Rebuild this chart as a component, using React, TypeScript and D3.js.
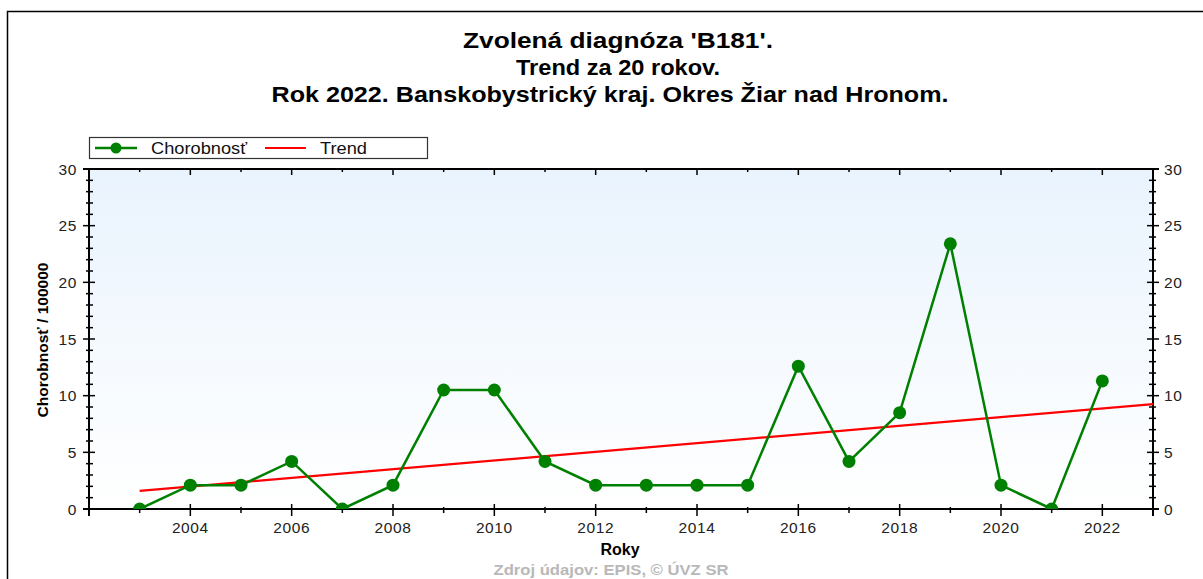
import React from "react";
import * as d3 from "d3";

const years = [2003, 2004, 2005, 2006, 2007, 2008, 2009, 2010, 2011, 2012, 2013, 2014, 2015, 2016, 2017, 2018, 2019, 2020, 2021, 2022];
const chorobnost = [0, 2.1, 2.1, 4.2, 0, 2.1, 10.5, 10.5, 4.2, 2.1, 2.1, 2.1, 2.1, 12.6, 4.2, 8.5, 23.4, 2.1, 0, 11.3];
const trendYears = [2003, 2023];
const trendValues = [1.6, 9.25];
const xTickLabels = [2004, 2006, 2008, 2010, 2012, 2014, 2016, 2018, 2020, 2022];
const yTickLabels = [0, 5, 10, 15, 20, 25, 30];
const titleLines = ["Zvolená diagnóza 'B181'.", "Trend za 20 rokov.", "Rok 2022. Banskobystrický kraj. Okres Žiar nad Hronom."];
const titleWidths = [310, 204, 677];

export default function App() {
  const W = 1203, H = 579;
  const L = 89, R = 1153, T = 169, B = 509;
  const x = d3.scaleLinear().domain([2002, 2023]).range([L, R]);
  const y = d3.scaleLinear().domain([0, 30]).range([B, T]);
  const line = d3.line<number>().x((d, i) => x(years[i])).y((d) => y(d));
  const tline = d3.line<number>().x((d, i) => x(trendYears[i])).y((d) => y(d));
  const xMinor = d3.range(2003, 2023);
  const yMinor = d3.range(0, 31);
  const font = "Arial, 'Liberation Sans', sans-serif";
  const titleX = [618, 618, 610];
  return (
    <svg width={W} height={H} style={{ position: "absolute", left: 0, top: 0 }} fontFamily={font}>
      <defs>
        <linearGradient id="bg" x1="0" y1="0" x2="0" y2="1">
          <stop offset="0" stopColor="#e9f3fd" />
          <stop offset="1" stopColor="#ffffff" />
        </linearGradient>
        <clipPath id="clip">
          <rect x={L} y={T} width={R - L} height={B - T} />
        </clipPath>
      </defs>
      <rect x={0} y={0} width={W} height={H} fill="#fff" />
      <rect x={7.5} y={11.5} width={1205} height={600} fill="none" stroke="#000" strokeWidth={1.5} />
      {titleLines.map((t, i) => (
        <text key={i} x={titleX[i]} y={48 + i * 27} textAnchor="middle" fontSize={22} fontWeight="bold" fill="#000"
          textLength={titleWidths[i]} lengthAdjust="spacingAndGlyphs">{t}</text>
      ))}
      <rect x={L} y={T} width={R - L} height={B - T} fill="url(#bg)" />
      {yMinor.map((v) => {
        const major = v % 5 === 0;
        return (
          <g key={"y" + v}>
            <line x1={major ? L - 6 : L - 3} x2={major ? L + 6 : L + 4} y1={y(v)} y2={y(v)} stroke="#000" strokeWidth={1.5} />
            <line x1={major ? R - 6 : R - 4} x2={major ? R + 6 : R + 3} y1={y(v)} y2={y(v)} stroke="#000" strokeWidth={1.5} />
          </g>
        );
      })}
      {xMinor.map((v) => {
        const major = v % 2 === 0;
        return (
          <g key={"x" + v}>
            <line x1={x(v)} x2={x(v)} y1={major ? B - 5 : B - 2} y2={major ? B + 7 : B + 4} stroke="#000" strokeWidth={1.5} />
            <line x1={x(v)} x2={x(v)} y1={T} y2={major ? T + 6 : T + 3} stroke="#000" strokeWidth={1.5} />
          </g>
        );
      })}
      <line x1={L - 6} x2={R + 6} y1={B} y2={B} stroke="#000" strokeWidth={2} />
      <line x1={L - 6} x2={R + 6} y1={T} y2={T} stroke="#000" strokeWidth={2} />
      <line x1={L} x2={L} y1={T} y2={B + 7} stroke="#000" strokeWidth={2} />
      <line x1={R} x2={R} y1={T} y2={B + 7} stroke="#000" strokeWidth={2} />
      {yTickLabels.map((v) => (
        <g key={"yl" + v}>
          <text x={77} y={y(v) + 5.5} textAnchor="end" fontSize={15.5} letterSpacing={0.6} fill="#222">{v}</text>
          <text x={1164} y={y(v) + 5.5} textAnchor="start" fontSize={15.5} letterSpacing={0.6} fill="#222">{v}</text>
        </g>
      ))}
      {xTickLabels.map((v) => (
        <text key={"xl" + v} x={x(v)} y={533} textAnchor="middle" fontSize={15.5} letterSpacing={0.6} fill="#222">{v}</text>
      ))}
      <g clipPath="url(#clip)">
        <path d={tline(trendValues) || ""} fill="none" stroke="#ff0000" strokeWidth={2.2} />
        <path d={line(chorobnost) || ""} fill="none" stroke="#008000" strokeWidth={2.5} />
        {chorobnost.map((v, i) => (
          <circle key={i} cx={x(years[i])} cy={y(v)} r={6.5} fill="#008000" />
        ))}
      </g>
      <text transform={`translate(48,340) rotate(-90)`} textAnchor="middle" fontSize={14} fontWeight="bold" fill="#000"
        textLength={155} lengthAdjust="spacingAndGlyphs">Chorobnosť / 100000</text>
      <text x={620} y={555} textAnchor="middle" fontSize={16} fontWeight="bold" fill="#000">Roky</text>
      <text x={611} y={575} textAnchor="middle" fontSize={15.5} fontWeight="bold" fill="#b8b8b8"
        textLength={235} lengthAdjust="spacingAndGlyphs">Zdroj údajov: EPIS, © ÚVZ SR</text>
      <rect x={89.5} y={137.5} width={338} height={21} fill="#fff" stroke="#333" strokeWidth={1.2} />
      <line x1={95} x2={137} y1={148} y2={148} stroke="#008000" strokeWidth={2.5} />
      <circle cx={116} cy={148} r={5.5} fill="#008000" />
      <text x={151} y={154} fontSize={17} fill="#111" textLength={96} lengthAdjust="spacingAndGlyphs">Chorobnosť</text>
      <line x1={265} x2={306} y1={148} y2={148} stroke="#ff0000" strokeWidth={2.2} />
      <text x={320} y={154} fontSize={17} fill="#111" textLength={47} lengthAdjust="spacingAndGlyphs">Trend</text>
    </svg>
  );
}
